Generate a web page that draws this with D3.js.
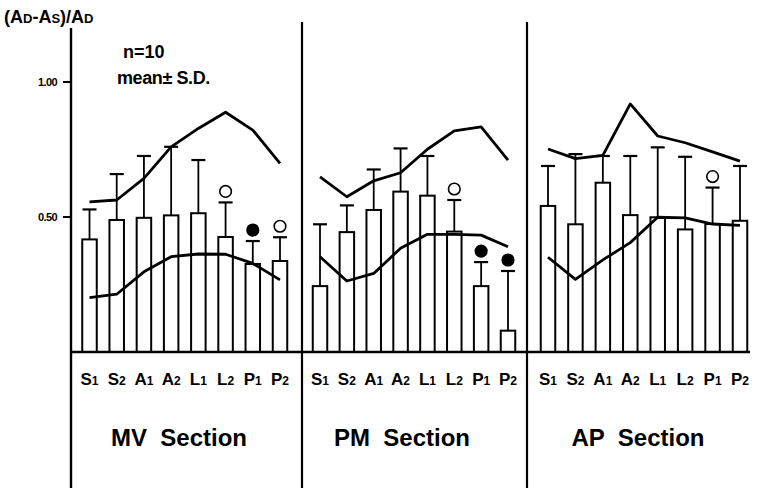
<!DOCTYPE html>
<html>
<head>
<meta charset="utf-8">
<script src="https://cdn.jsdelivr.net/npm/d3@7"></script>
<style>
  body { margin: 0; background: #fff; }
  svg { display: block; }
  text { font-family: "Liberation Sans", Arial, sans-serif; font-weight: bold; fill: #000; }
</style>
</head>
<body>
<svg id="chart" width="758" height="488"></svg>
<script>
// sites along each section
const sites = ['S1', 'S2', 'A1', 'A2', 'L1', 'L2', 'P1', 'P2'];
const sections = ['MV', 'PM', 'AP'];

// bar means, (AD-AS)/AD
const meanMV = [0.417, 0.489, 0.497, 0.506, 0.514, 0.426, 0.326, 0.337];
const meanPM = [0.244, 0.444, 0.526, 0.594, 0.579, 0.446, 0.244, 0.079];
const meanAP = [0.541, 0.473, 0.627, 0.507, 0.499, 0.454, 0.474, 0.486];

// S.D. (upper whisker only)
const sdMV = [0.111, 0.170, 0.229, 0.254, 0.197, 0.128, 0.085, 0.088];
const sdPM = [0.229, 0.099, 0.150, 0.160, 0.147, 0.117, 0.089, 0.221];
const sdAP = [0.148, 0.260, 0.099, 0.219, 0.259, 0.269, 0.135, 0.203];

// upper and lower reference curves
const upperMV = [0.556, 0.563, 0.643, 0.760, 0.828, 0.888, 0.822, 0.699];
const upperPM = [0.649, 0.575, 0.634, 0.664, 0.751, 0.819, 0.834, 0.711];
const upperAP = [0.752, 0.716, 0.728, 0.919, 0.800, 0.775, 0.741, 0.707];
const lowerMV = [0.201, 0.214, 0.297, 0.353, 0.363, 0.362, 0.328, 0.267];
const lowerPM = [0.353, 0.263, 0.291, 0.384, 0.436, 0.436, 0.433, 0.390];
const lowerAP = [0.351, 0.269, 0.341, 0.405, 0.499, 0.497, 0.474, 0.469];

// significance markers: 'o' open circle, 'f' filled circle
const markMV = [null, null, null, null, null, 'o', 'f', 'o'];
const markPM = [null, null, null, null, null, 'o', 'f', 'f'];
const markAP = [null, null, null, null, null, null, 'o', null];

const yTicks = [0.5, 1.0];

const panels = [
  { name: 'MV', mean: meanMV, sd: sdMV, upper: upperMV, lower: lowerMV, mark: markMV, range: [89.5, 280], labelX: 179 },
  { name: 'PM', mean: meanPM, sd: sdPM, upper: upperPM, lower: lowerPM, mark: markPM, range: [320, 508], labelX: 402 },
  { name: 'AP', mean: meanAP, sd: sdAP, upper: upperAP, lower: lowerAP, mark: markAP, range: [548, 740], labelX: 638 }
];

const svg = d3.select('#chart');
const axisX = 71;
const baseY = 352;
const y = d3.scaleLinear().domain([0, 1]).range([baseY, 82]);
const barW = 14.5;

// y axis
svg.append('line')
  .attr('x1', axisX).attr('x2', axisX).attr('y1', 28).attr('y2', 488)
  .attr('stroke', '#000').attr('stroke-width', 2.4);

yTicks.forEach(function(t) {
  svg.append('line')
    .attr('x1', axisX - 8).attr('x2', axisX).attr('y1', y(t)).attr('y2', y(t))
    .attr('stroke', '#000').attr('stroke-width', 2);
  svg.append('text')
    .attr('x', 57).attr('y', y(t) + 4)
    .attr('text-anchor', 'end')
    .style('font-size', '11px')
    .style('letter-spacing', '-0.6px')
    .text(d3.format('.2f')(t));
});

// panel dividers
[302, 527].forEach(function(x) {
  svg.append('line')
    .attr('x1', x).attr('x2', x).attr('y1', 22).attr('y2', 488)
    .attr('stroke', '#000').attr('stroke-width', 2.2);
});

// axis title
const title = svg.append('text').attr('x', 4).attr('y', 23).style('font-size', '18px');
title.append('tspan').text('(A');
title.append('tspan').style('font-size', '13px').text('D');
title.append('tspan').text('-A');
title.append('tspan').style('font-size', '13px').text('S');
title.append('tspan').text(')/A');
title.append('tspan').style('font-size', '13px').text('D');

svg.append('text').attr('x', 123).attr('y', 58).style('font-size', '18px').text('n=10');
svg.append('text').attr('x', 117).attr('y', 84).style('font-size', '18px').style('letter-spacing', '-0.4px').text('mean\u00b1 S.D.');

const line = d3.line()
  .x(function(d) { return d.x; })
  .y(function(d) { return y(d.v); });

panels.forEach(function(p) {
  const x = d3.scalePoint().domain(sites).range(p.range);
  const g = svg.append('g');

  const rows = sites.map(function(s, i) {
    return { site: s, mean: p.mean[i], sd: p.sd[i], mark: p.mark[i] };
  });

  // error whiskers
  g.selectAll('line.whisker').data(rows).enter().append('line')
    .attr('x1', function(d) { return x(d.site); })
    .attr('x2', function(d) { return x(d.site); })
    .attr('y1', function(d) { return y(d.mean); })
    .attr('y2', function(d) { return y(d.mean + d.sd); })
    .attr('stroke', '#000').attr('stroke-width', 1.8);
  g.selectAll('line.cap').data(rows).enter().append('line')
    .attr('x1', function(d) { return x(d.site) - 7; })
    .attr('x2', function(d) { return x(d.site) + 7; })
    .attr('y1', function(d) { return y(d.mean + d.sd); })
    .attr('y2', function(d) { return y(d.mean + d.sd); })
    .attr('stroke', '#000').attr('stroke-width', 2.2);

  // bars
  g.selectAll('rect').data(rows).enter().append('rect')
    .attr('x', function(d) { return x(d.site) - barW / 2; })
    .attr('y', function(d) { return y(d.mean); })
    .attr('width', barW)
    .attr('height', function(d) { return baseY - y(d.mean); })
    .attr('fill', 'none')
    .attr('stroke', '#000').attr('stroke-width', 2);

  // markers
  g.selectAll('circle').data(rows.filter(function(d) { return d.mark; })).enter().append('circle')
    .attr('cx', function(d) { return x(d.site); })
    .attr('cy', function(d) { return y(d.mean + d.sd) - 11; })
    .attr('r', 5.8)
    .attr('fill', function(d) { return d.mark === 'f' ? '#000' : '#fff'; })
    .attr('stroke', '#000').attr('stroke-width', 1.6);

  // curves
  [p.upper, p.lower].forEach(function(vals) {
    g.append('path')
      .datum(sites.map(function(s, i) { return { x: x(s), v: vals[i] }; }))
      .attr('d', line)
      .attr('fill', 'none')
      .attr('stroke', '#000').attr('stroke-width', 2.8)
      .attr('stroke-linejoin', 'round');
  });

  // site labels with subscripts
  sites.forEach(function(s) {
    const t = g.append('text')
      .attr('x', x(s)).attr('y', 385)
      .attr('text-anchor', 'middle')
      .style('font-size', '17px');
    t.append('tspan').text(s[0]);
    t.append('tspan').style('font-size', '12px').text(s[1]);
  });

  // section label
  svg.append('text')
    .attr('x', p.labelX).attr('y', 446)
    .attr('text-anchor', 'middle')
    .style('font-size', '24px')
    .attr('xml:space', 'preserve')
    .text(p.name + '  Section');
});

// baseline
svg.append('line')
  .attr('x1', axisX).attr('x2', 750).attr('y1', baseY).attr('y2', baseY)
  .attr('stroke', '#000').attr('stroke-width', 2.4);
</script>
</body>
</html>
